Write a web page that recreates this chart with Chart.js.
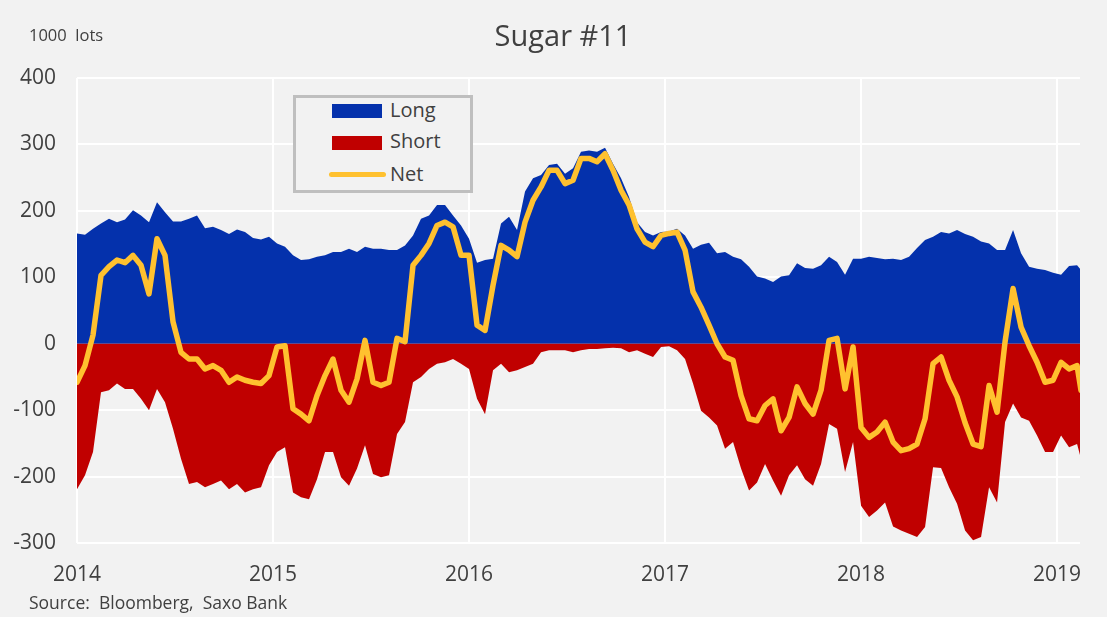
<!DOCTYPE html>
<html>
<head>
<meta charset="utf-8">
<script src="https://cdn.jsdelivr.net/npm/chart.js@4/dist/chart.umd.min.js"></script>
<style>
  html, body { margin:0; padding:0; background:#f2f2f2; }
  #wrap { position:relative; width:1107px; height:617px; background:#f2f2f2; font-family:"Open Sans", sans-serif; color:#404040; }
  #c { position:absolute; left:0; top:0; }
  .txt { position:absolute; white-space:pre; line-height:1; }
  #title { left:0; width:1126px; text-align:center; top:20px; font-size:29px; }
  #unit { left:29px; top:27px; font-size:16.5px; }
  #src { left:29px; top:594px; font-size:17.5px; }
  #legend { position:absolute; left:293px; top:95px; width:174px; height:92px; border:3px solid #bfbfbf; background:#f2f2f2; }
  .sw { position:absolute; }
  .lt { position:absolute; font-size:20px; line-height:1; }
</style>
</head>
<body>
<div id="wrap">
  <canvas id="c" width="1107" height="617"></canvas>
  <div class="txt" id="title">Sugar #11</div>
  <div class="txt" id="unit">1000  lots</div>
  <div class="txt" id="src">Source:  Bloomberg,  Saxo Bank</div>
  <div id="legend">
    <div class="sw" style="left:36px;top:6px;width:50px;height:14px;background:#0431ac"></div>
    <div class="lt" style="left:94px;top:2px">Long</div>
    <div class="sw" style="left:36px;top:38px;width:50px;height:14px;background:#c00000"></div>
    <div class="lt" style="left:94px;top:33px">Short</div>
    <div class="sw" style="left:33px;top:74px;width:57px;height:5px;border-radius:3px;background:#ffc12f"></div>
    <div class="lt" style="left:94px;top:66px">Net</div>
  </div>
</div>
<script>
// Sample times (decimal years), roughly every 15 days from Jan 2014
const startYear = 2014;
const sampleStepYears = 8 / 196;   // sampling interval used when reading the chart
const sampleCount = 126;
const lastSampleYear = 2019.122;

// Long positions (1000 lots)
const longPos = [
  166,164,173,181,188,183,187,201,193,183,213,198,184,184,188,193,174,176,171,165,172,168,159,157,161,
  151,146,133,126,127,131,133,138,138,143,138,146,143,143,141,141,148,163,188,193,209,209,193,178,158,
  122,126,128,181,191,171,229,249,254,269,271,256,264,289,291,289,295,271,249,221,183,168,163,168,169,
  173,163,143,149,152,136,138,131,127,116,101,98,93,101,103,121,114,113,118,131,123,104,128,128,131,
  129,127,128,126,131,144,156,161,168,166,171,165,161,154,151,141,141,171,136,116,113,111,107,104,117,118,
  111
];
// Short positions (1000 lots)
const shortPos = [
  -219,-198,-163,-73,-70,-60,-68,-68,-83,-100,-68,-88,-128,-173,-211,-208,-216,-211,-206,-219,-211,-224,-219,-216,-183,
  -163,-156,-224,-231,-234,-204,-163,-163,-201,-214,-188,-153,-196,-201,-198,-136,-118,-58,-50,-38,-30,-28,-23,-30,-38,
  -83,-106,-40,-30,-43,-40,-35,-30,-13,-10,-10,-10,-13,-10,-8,-8,-7,-6,-7,-13,-10,-15,-20,-5,-4,
  -10,-23,-60,-101,-111,-123,-158,-148,-188,-221,-209,-181,-206,-229,-198,-183,-204,-214,-181,-121,-128,-193,-148,-244,-261,
  -251,-239,-275,-281,-286,-291,-276,-186,-187,-216,-241,-281,-296,-291,-216,-239,-118,-90,-111,-116,-138,-163,-163,-138,-156,-151,
  -173
];
// Net positions (1000 lots)
const netPos = [
  -58,-33,13,103,116,126,122,133,118,75,158,133,33,-13,-23,-23,-38,-33,-40,-58,-50,-55,-58,-60,-48,
  -5,-3,-98,-106,-116,-78,-48,-23,-70,-88,-53,5,-58,-63,-58,8,3,118,133,151,178,183,176,133,133,
  28,20,88,148,141,131,183,216,236,261,261,241,246,279,279,274,286,261,231,209,173,153,146,163,166,
  168,141,78,55,28,0,-20,-25,-78,-113,-116,-93,-83,-131,-111,-65,-90,-106,-70,5,8,-68,-5,-126,-141,
  -133,-118,-148,-161,-158,-151,-113,-30,-20,-55,-80,-119,-151,-155,-63,-103,3,83,25,-3,-28,-58,-55,-28,-38,-33,
  -70
];
const yearTicks = [2014, 2015, 2016, 2017, 2018, 2019];
const yTickValues = [-300, -200, -100, 0, 100, 200, 300, 400];

const times = [];
for (let i = 0; i < sampleCount; i++) times.push(startYear + i * sampleStepYears);
times.push(lastSampleYear);

const toPts = arr => arr.map((v, i) => ({ x: times[i], y: v }));

const FONT = '"Open Sans", sans-serif';
const TXT = '#404040';

new Chart(document.getElementById('c'), {
  type: 'line',
  data: {
    datasets: [
      { label: 'Net', data: toPts(netPos), borderColor: '#ffc12f', borderWidth: 5.5, fill: false,
        pointRadius: 0, tension: 0, borderJoinStyle: 'round', borderCapStyle: 'round', order: 0 },
      { label: 'Long', data: toPts(longPos), borderWidth: 0, borderColor: 'rgba(0,0,0,0)', backgroundColor: '#0431ac',
        fill: 'origin', pointRadius: 0, tension: 0, order: 2 },
      { label: 'Short', data: toPts(shortPos), borderWidth: 0, borderColor: 'rgba(0,0,0,0)', backgroundColor: '#c00000',
        fill: 'origin', pointRadius: 0, tension: 0, order: 1 }
    ]
  },
  options: {
    responsive: false,
    animation: false,
    events: [],
    layout: { padding: { left: 0, right: 27, top: 78, bottom: 24 } },
    plugins: { legend: { display: false }, tooltip: { enabled: false }, title: { display: false } },
    scales: {
      x: {
        type: 'linear',
        min: 2014,
        max: 2019.117,
        afterFit: s => { s.height = 50; },
        afterBuildTicks: s => { s.ticks = yearTicks.map(v => ({ value: v })); },
        grid: { color: '#ffffff', lineWidth: 2, drawTicks: false },
        border: { display: false },
        ticks: { color: TXT, font: { family: FONT, size: 21 }, padding: 19, maxRotation: 0,
                 callback: v => String(v) }
      },
      y: {
        min: -300,
        max: 400,
        afterFit: s => { s.width = 77; },
        afterBuildTicks: s => { s.ticks = yTickValues.map(v => ({ value: v })); },
        grid: { color: '#ffffff', lineWidth: 2, drawTicks: false },
        border: { display: false },
        ticks: { color: TXT, font: { family: FONT, size: 21 }, padding: 21, callback: v => String(v) }
      }
    }
  }
});
</script>
</body>
</html>
